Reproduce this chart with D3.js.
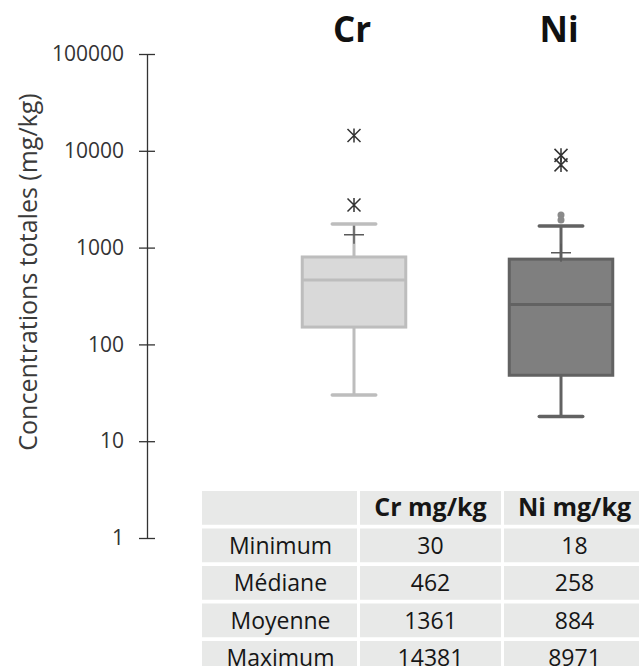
<!DOCTYPE html>
<html>
<head>
<meta charset="utf-8">
<script src="https://cdn.jsdelivr.net/npm/d3@7"></script>
<style>
  body { margin: 0; background: #fff; }
  svg { display: block; font-family: "Open Sans", sans-serif; }
</style>
</head>
<body>
<svg id="chart" width="639" height="666"></svg>
<script>
// values (mg/kg)
const categories   = ["Cr", "Ni"];
const minimum      = [30, 18];
const q1           = [151, 48];
const median       = [462, 258];
const q3           = [800, 760];
const upperWhisker = [1750, 1670];
const mean         = [1361, 884];
const maximum      = [14381, 8971];
const starOutliers = [[14381, 2760], [8971, 7150]];
const dotOutliers  = [[], [2170, 1930]];
const yTicks       = [1, 10, 100, 1000, 10000, 100000];
const rowLabels    = ["Minimum", "Médiane", "Moyenne", "Maximum"];
const colHeaders   = ["Cr mg/kg", "Ni mg/kg"];

const boxFill   = ["#d9d9d9", "#7f7f7f"];
const boxStroke = ["#bdbdbd", "#626262"];

const svg = d3.select("#chart");

/* ---------------- scales ---------------- */
const y = d3.scaleLog().domain([1, 100000]).range([538, 54]);
const x = d3.scaleBand()
  .domain(categories)
  .range([250.5, 664.5])
  .paddingInner(0.5)
  .paddingOuter(0.25);
const bw = x.bandwidth();
const cx = (i) => x(categories[i]) + bw / 2;

/* ---------------- axis ---------------- */
const axisX = 147;
const gAxis = svg.append("g")
  .attr("transform", "translate(" + axisX + ",0)")
  .call(d3.axisLeft(y)
    .tickValues(yTicks)
    .tickFormat(d3.format("d"))
    .tickSizeInner(8)
    .tickSizeOuter(0)
    .tickPadding(15));

gAxis.select(".domain").attr("stroke", "#333").attr("stroke-width", 1.3);
gAxis.selectAll(".tick line").attr("x1", 8).attr("stroke", "#333").attr("stroke-width", 1.3);
gAxis.selectAll(".tick text")
  .attr("font-family", "Open Sans, sans-serif")
  .attr("font-size", 21)
  .attr("fill", "#333");

svg.append("text")
  .attr("transform", "translate(37,272) rotate(-90)")
  .attr("text-anchor", "middle")
  .attr("font-size", 25)
  .attr("fill", "#3a3a3a")
  .text("Concentrations totales (mg/kg)");

/* ---------------- titles ---------------- */
svg.selectAll("text.title")
  .data(categories)
  .enter()
  .append("text")
  .attr("class", "title")
  .attr("x", (d, i) => cx(i) - 2)
  .attr("y", 42)
  .attr("text-anchor", "middle")
  .attr("font-size", 35)
  .attr("font-weight", 700)
  .attr("fill", "#111")
  .text((d) => d);

/* ---------------- boxes ---------------- */
const capW = bw * 0.42;
const gBox = svg.append("g").attr("class", "boxes");

categories.forEach((c, i) => {
  const g = gBox.append("g");
  const xc = cx(i);

  // whiskers
  g.append("line")
    .attr("x1", xc).attr("x2", xc)
    .attr("y1", y(upperWhisker[i])).attr("y2", y(q3[i]))
    .attr("stroke", boxStroke[i]).attr("stroke-width", 3);
  g.append("line")
    .attr("x1", xc).attr("x2", xc)
    .attr("y1", y(q1[i])).attr("y2", y(minimum[i]))
    .attr("stroke", boxStroke[i]).attr("stroke-width", 3);
  [upperWhisker[i], minimum[i]].forEach((v) => {
    g.append("line")
      .attr("x1", xc - capW / 2).attr("x2", xc + capW / 2)
      .attr("y1", y(v)).attr("y2", y(v))
      .attr("stroke", boxStroke[i]).attr("stroke-width", 3.5)
      .attr("stroke-linecap", "round");
  });

  // box
  g.append("rect")
    .attr("x", x(c)).attr("width", bw)
    .attr("y", y(q3[i])).attr("height", y(q1[i]) - y(q3[i]))
    .attr("fill", boxFill[i])
    .attr("stroke", boxStroke[i]).attr("stroke-width", 3);
  g.append("line")
    .attr("x1", x(c)).attr("x2", x(c) + bw)
    .attr("y1", y(median[i])).attr("y2", y(median[i]))
    .attr("stroke", boxStroke[i]).attr("stroke-width", 3);

  // mean marker
  const ym = y(mean[i]);
  g.append("path")
    .attr("d", "M" + (xc - 10) + "," + ym + "H" + (xc + 10) +
               "M" + xc + "," + (ym - 9) + "V" + (ym + 9))
    .attr("stroke", "#5a5a5a").attr("stroke-width", 1.5).attr("fill", "none");

  // outliers
  g.selectAll("circle.dot")
    .data(dotOutliers[i])
    .enter()
    .append("circle")
    .attr("class", "dot")
    .attr("cx", xc).attr("cy", (d) => y(d))
    .attr("r", 3.5)
    .attr("fill", "#8a8a8a");

  g.selectAll("path.star")
    .data(starOutliers[i])
    .enter()
    .append("path")
    .attr("class", "star")
    .attr("d", (d) => {
      const yy = y(d), a = 7, b = 6.5;
      return "M" + xc + "," + (yy - a) + "V" + (yy + a) +
             "M" + (xc - b) + "," + (yy - b) + "L" + (xc + b) + "," + (yy + b) +
             "M" + (xc + b) + "," + (yy - b) + "L" + (xc - b) + "," + (yy + b);
    })
    .attr("stroke", "#333").attr("stroke-width", 1.5).attr("fill", "none");
});

/* ---------------- table ---------------- */
const colX = d3.scaleOrdinal().domain([0, 1, 2]).range([202, 360, 504]);
const colW = [155, 141, 141];
const rowY = d3.scaleBand()
  .domain(d3.range(5))
  .range([491, 491 + 5 * 36.75])
  .paddingInner(0.1)
  .paddingOuter(0);

const cells = [];
for (let r = 0; r < 5; r++) {
  for (let c = 0; c < 3; c++) {
    let label = "", bold = false;
    if (r == 0) {
      if (c > 0) { label = colHeaders[c - 1]; bold = true; }
    } else if (c == 0) {
      label = rowLabels[r - 1];
    } else {
      const arr = [minimum, median, mean, maximum][r - 1];
      label = String(arr[c - 1]);
    }
    cells.push({ r: r, c: c, label: label, bold: bold });
  }
}

const gTable = svg.append("g").attr("class", "table");
gTable.selectAll("rect.cell")
  .data(cells)
  .enter()
  .append("rect")
  .attr("class", "cell")
  .attr("x", (d) => colX(d.c))
  .attr("y", (d) => rowY(d.r))
  .attr("width", (d) => colW[d.c])
  .attr("height", rowY.bandwidth())
  .attr("fill", "#e8e9e8");

gTable.selectAll("text.cell")
  .data(cells.filter((d) => d.label))
  .enter()
  .append("text")
  .attr("class", "cell")
  .attr("x", (d) => colX(d.c) + colW[d.c] / 2 + (d.c == 0 ? 1 : 0))
  .attr("y", (d) => rowY(d.r) + rowY.bandwidth() / 2 + 8.5)
  .attr("text-anchor", "middle")
  .attr("font-size", (d) => d.bold ? 25 : 23)
  .attr("font-weight", (d) => d.bold ? 700 : 400)
  .attr("fill", "#161616")
  .text((d) => d.label);
</script>
</body>
</html>
